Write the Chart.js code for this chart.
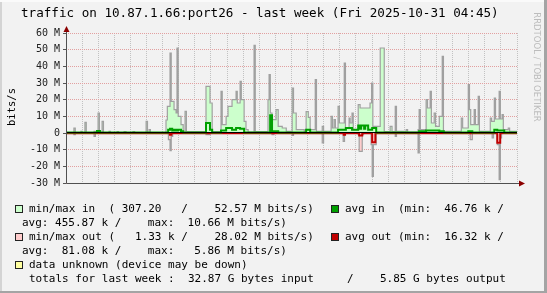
<!DOCTYPE html>
<html>
<head>
<meta charset="utf-8">
<script src="https://cdn.jsdelivr.net/npm/chart.js@4.4.1/dist/chart.umd.min.js"></script>
<style>
  html, body { margin: 0; padding: 0; background: #f2f2f2; }
  #wrap { position: relative; width: 547px; height: 293px; overflow: hidden; background: #f2f2f2; }
  #graph { position: absolute; left: 0; top: 0; }
  .t { position: absolute; font-family: "DejaVu Sans Mono", monospace; white-space: pre; color: #000; font-size: 11px; line-height: 14px; }
  .sq { position: absolute; width: 8px; height: 8px; box-sizing: border-box; border: 1px solid #222; }
  .title { left: 21px; top: 5px; font-size: 12.6px; line-height: 16px; }
  .ylab { left: -19px; top: 101px; width: 60px; text-align: center; font-size: 10.5px; line-height: 12px; transform: rotate(-90deg); }
  .mark { position: absolute; left: 472px; top: 62px; width: 130px; text-align: center; font-family: "DejaVu Sans", sans-serif; font-size: 8.5px; line-height: 10px; color: #bcbcbc; transform: rotate(90deg); white-space: pre; }
  .bR { position: absolute; right: 0; top: 0; width: 3px; height: 293px; background: #a4a4a4; }
  .bB { position: absolute; left: 0; bottom: 0; width: 547px; height: 2px; background: #a4a4a4; }
  .bL { position: absolute; left: 0; top: 0; width: 2px; height: 293px; background: #d4d4d4; }
  .bT { position: absolute; left: 0; top: 0; width: 547px; height: 2px; background: #fafafa; }
</style>
</head>
<body>
<div id="wrap">
  <canvas id="graph" width="547" height="293"></canvas>
  <div class="bL"></div><div class="bT"></div><div class="bR"></div><div class="bB"></div>
  <div class="t title">traffic on 10.87.1.66:port26 - last week (Fri 2025-10-31 04:45)</div>
  <div class="t ylab">bits/s</div>
  <div class="mark">RRDTOOL / TOBI OETIKER</div>

  <div class="sq" style="left:15px;top:205px;background:#ccffcc"></div>
  <div class="t" style="left:29px;top:202px">min/max in  ( 307.20   /    52.57 M bits/s)</div>
  <div class="sq" style="left:331px;top:205px;background:#00a000"></div>
  <div class="t" style="left:345px;top:202px">avg in  (min:  46.76 k /</div>
  <div class="t" style="left:22px;top:216px">avg: 455.87 k /    max:  10.66 M bits/s)</div>

  <div class="sq" style="left:15px;top:233px;background:#ffcccc"></div>
  <div class="t" style="left:29px;top:230px">min/max out (   1.33 k /    28.02 M bits/s)</div>
  <div class="sq" style="left:331px;top:233px;background:#c00000"></div>
  <div class="t" style="left:345px;top:230px">avg out (min:  16.32 k /</div>
  <div class="t" style="left:22px;top:244px">avg:  81.08 k /    max:   5.86 M bits/s)</div>

  <div class="sq" style="left:15px;top:261px;background:#ffffa0"></div>
  <div class="t" style="left:29px;top:258px">data unknown (device may be down)</div>
  <div class="t" style="left:29px;top:272px">totals for last week :  32.87 G bytes input     /    5.85 G bytes output</div>
</div>

<script>
// hours counted from Thu 24 Oct 00:00, values in M bits/s
// each [hour, value] holds until the next point
const days = ['24', '25', '26', '27', '28', '29', '30']

const inMax = [
  [4.75,0.2],[7.7,3],[8.2,0.2],[10.3,1],[10.8,0.2],[11.8,6.4],[12.3,0.2],
  [15.2,1],[15.7,0.2],[16.7,12],[17.2,0.2],[18.2,7],[18.7,0.2],[20.8,1],[21.3,0.2],
  [23.8,0.8],[24.3,0.2],[26.4,0.8],[27.1,0.2],[29.7,0.8],[30.3,0.2],
  [34.6,7],[35.1,0.2],[35.7,2],[36.2,0.2],
  [42.0,7.8],[42.5,16],[43.5,48],[43.95,19],[45.0,14],[45.75,12],[46.1,51],[46.55,10],[47.6,5],[48.4,0.4],
  [49.1,13],[49.6,0.8],
  [56.9,28],[58.4,18],[59.2,0.8],
  [62.5,25],[62.95,5],[64.4,10],[65.1,16],[66.6,20],[68.1,25],[68.55,18],[69.6,31],[70.05,20],[71.1,7],[71.8,2],[72.6,0.5],
  [74.8,52.57],[75.25,0.8],
  [80.0,20],[80.4,35],[80.85,12],[81.5,8],[83.0,14],[83.8,4],[85.3,3],[86.8,1],
  [89.0,27],[89.5,12],[90.5,2],[93.5,1],
  [94.2,12.8],[95.0,9.4],[95.7,2],[97.6,32],[98.05,1],
  [100.2,4],[100.7,1],
  [103.5,10],[104.0,3],[104.6,8],[105.1,3],[106.1,16],[106.6,6],[108.4,42],[108.85,3],[110.2,9],[110.6,6],[111.3,12],[111.75,2],
  [113.6,17],[114.3,15],[118.0,18],[118.6,30],[119.05,4],[121.8,51],[123.3,0.8],
  [125.5,4],[126.2,0.8],[127.4,16],[127.85,1],
  [131.5,2],[132.0,0.6],
  [135.9,2],[136.3,14],[136.75,2],[138.9,20],[139.4,15],[140.4,25],[140.85,6],[141.9,12],[142.4,4],[143.8,10],[144.9,46],[145.35,1],
  [152.0,9],[152.5,3],[154.6,29],[155.05,14],[155.5,5],[156.8,14],[157.25,5],[158.3,22],[158.75,1],
  [162.8,9],[163.3,7],[164.3,21],[164.75,8.4],[166.1,25],[166.55,8.4],[167.2,11],[167.65,2],[169.5,3],[170.0,1],[172.75,1]
]

const inAvg = [
  [4.75,0.3],[16.3,1.2],[17.4,0.3],
  [42.8,2],[43.5,2.5],[44.3,1.5],[45.0,2],[45.75,1.5],[46.5,2],[47.6,1],[48.4,0.3],
  [56.9,6],[58.4,2],[59.2,0.3],
  [62.5,1.5],[64.4,3],[66.6,2],[68.1,3],[69.6,2.5],[71.1,0.3],
  [80.8,10.66],[81.5,1],[83.8,0.3],
  [94.2,2],[95.7,0.3],
  [106.1,2],[109.0,3],[111.3,2],[113.6,4.5],[114.3,2.5],[114.7,4.5],[115.8,2.5],[116.2,4.5],[117.3,2],[118.8,3],[120.3,0.3],
  [136.3,1],[138.9,1.5],[143.8,1],[145.5,0.3],
  [154.6,1],[156.1,0.3],
  [164.3,2],[165.4,1.5],[168.0,0.3],[172.75,0.3]
]

const outMax = [
  [4.75,0.1],[7.7,1],[8.2,0.1],[15.2,2],[15.7,0.1],
  [42.9,4],[43.5,10.6],[43.95,2],[44.5,0.1],
  [56.9,1],[58.4,0.1],[81.5,1],[82.2,0.1],[89.0,1.5],[89.5,0.1],
  [100.2,6],[100.7,0.1],[108.0,5],[108.5,0.1],
  [113.6,1],[113.96,11],[115.1,1],[115.6,0.1],
  [118.4,7],[118.8,26],[119.25,7],[120.3,0.1],
  [127.4,2],[127.85,0.1],[135.9,12],[136.35,0.1],
  [155.3,4],[156.1,0.1],[163.5,3],[164.0,0.1],
  [165.4,7],[166.1,28.02],[166.55,3],[167.0,0.1],[172.75,0.1]
]

const outAvg = [
  [4.75,0.08],[43.5,1],[44.0,0.08],[108.2,1],[108.7,0.08],
  [113.96,1.5],[115.1,0.08],[118.8,5.5],[120.0,0.08],
  [165.4,5.86],[166.5,0.08],[172.75,0.08]
]

// outgoing traffic is drawn below the zero line
const pts = (arr, sign) => arr.map(p => ({ x: p[0], y: sign * p[1] }))

const frame = {
  id: 'frame',
  afterDatasetsDraw(chart) {
    const { ctx, chartArea: a, scales: { y } } = chart
    const y0 = Math.round(y.getPixelForValue(0)) - 0.5
    const ax = Math.round(a.left) + 0.5
    const ay = Math.round(a.bottom) + 0.5
    ctx.save()
    ctx.strokeStyle = '#000'
    ctx.lineWidth = 1
    ctx.beginPath(); ctx.moveTo(a.left, y0); ctx.lineTo(a.right, y0); ctx.stroke()
    ctx.strokeStyle = '#505050'
    ctx.beginPath()
    ctx.moveTo(ax, ay); ctx.lineTo(ax, a.top - 3)
    ctx.moveTo(ax, ay); ctx.lineTo(a.right + 3, ay)
    ctx.stroke()
    ctx.fillStyle = '#8b0000'
    ctx.beginPath(); ctx.moveTo(ax - 3, a.top - 1); ctx.lineTo(ax + 3, a.top - 1); ctx.lineTo(ax, a.top - 7); ctx.fill()
    ctx.beginPath(); ctx.moveTo(a.right + 2, ay - 3); ctx.lineTo(a.right + 2, ay + 3); ctx.lineTo(a.right + 8, ay); ctx.fill()
    ctx.restore()
  }
}

const tickFont = { family: 'DejaVu Sans Mono', size: 10 }

new Chart(document.getElementById('graph'), {
  type: 'line',
  data: {
    datasets: [
      { data: pts(inAvg, 1), borderColor: '#00a000', borderWidth: 2, fill: false },
      { data: pts(outAvg, -1), borderColor: '#c00000', borderWidth: 2, fill: false },
      { data: pts(inMax, 1), borderColor: '#a0a0a0', borderWidth: 1.2, backgroundColor: '#ccffcc', fill: 'origin' },
      { data: pts(outMax, -1), borderColor: '#a0a0a0', borderWidth: 1.2, backgroundColor: '#ffcccc', fill: 'origin' }
    ]
  },
  options: {
    responsive: false,
    animation: false,
    layout: { padding: { top: 33, right: 30, bottom: 93, left: 0 } },
    elements: { point: { radius: 0 }, line: { stepped: true, tension: 0 } },
    plugins: { legend: { display: false }, tooltip: { enabled: false } },
    scales: {
      x: {
        type: 'linear',
        min: 4.75,
        max: 172.75,
        afterFit: s => { s.height = 17 },
        ticks: {
          stepSize: 6,
          includeBounds: false,
          autoSkip: false,
          maxRotation: 0,
          padding: 4,
          color: '#222',
          font: tickFont,
          callback: v => (v % 24 === 12 ? days[Math.floor(v / 24)] : '')
        },
        grid: {
          drawTicks: false,
          lineWidth: 1,
          color: c => (c.tick && c.tick.value % 24 === 0 ? '#e2a0a0' : '#c2c2c2')
        },
        border: { display: false, dash: [1, 1] }
      },
      y: {
        min: -30,
        max: 60,
        afterFit: s => { s.width = 66 },
        ticks: {
          stepSize: 5,
          includeBounds: false,
          padding: 3,
          color: '#222',
          font: tickFont,
          callback: v => (v % 10 !== 0 ? '' : v === 0 ? '0' : v + ' M')
        },
        grid: {
          tickLength: 3,
          tickColor: '#555',
          lineWidth: 1,
          color: c => (c.tick && c.tick.value % 10 === 0 ? '#e2a0a0' : '#c2c2c2')
        },
        border: { display: false, dash: [1, 1] }
      }
    }
  },
  plugins: [frame]
})
</script>
</body>
</html>
